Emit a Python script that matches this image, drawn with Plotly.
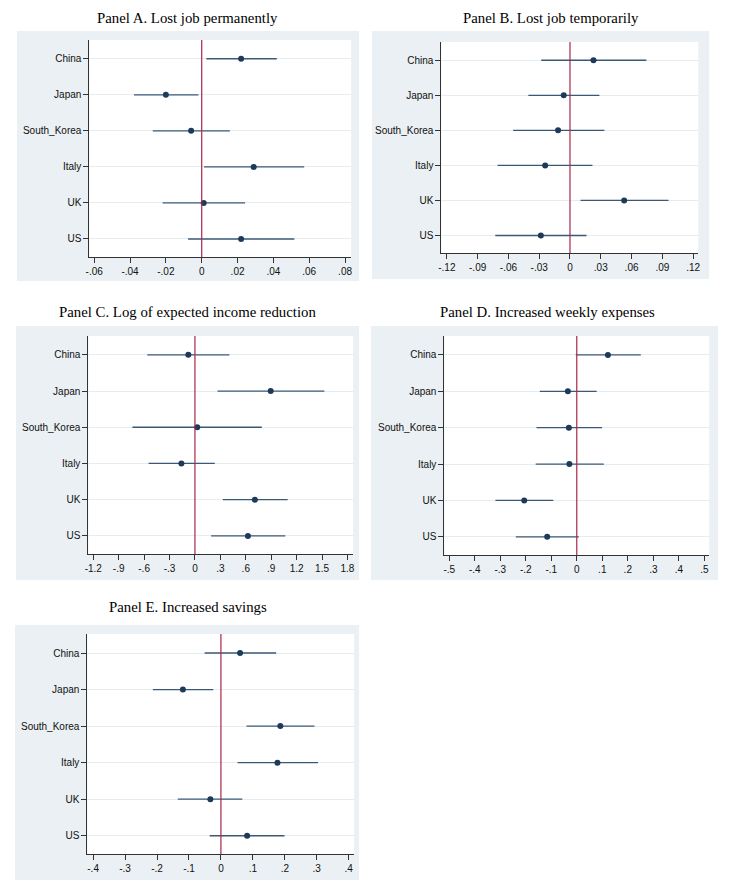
import plotly.graph_objects as go

countries = ["China", "Japan", "South_Korea", "Italy", "UK", "US"]

titles = [
    "Panel A. Lost job permanently",
    "Panel B. Lost job temporarily",
    "Panel C. Log of expected income reduction",
    "Panel D. Increased weekly expenses",
    "Panel E. Increased savings",
]

# Panel A
a_est = [0.022, -0.020, -0.0059, 0.029, 0.0011, 0.022]
a_lo = [0.0026, -0.0378, -0.0273, 0.0013, -0.0218, -0.0076]
a_hi = [0.0419, -0.0018, 0.0157, 0.0572, 0.0242, 0.0517]
# Panel B
b_est = [0.0229, -0.0061, -0.0116, -0.0242, 0.0528, -0.0284]
b_lo = [-0.028, -0.0406, -0.0554, -0.0706, 0.0103, -0.0728]
b_hi = [0.0744, 0.0287, 0.0335, 0.0219, 0.096, 0.0161]
# Panel C
c_est = [-0.078, 0.894, 0.027, -0.160, 0.707, 0.625]
c_lo = [-0.5625, 0.266, -0.738, -0.547, 0.328, 0.191]
c_hi = [0.406, 1.527, 0.789, 0.234, 1.094, 1.066]
# Panel D
d_est = [0.122, -0.035, -0.031, -0.029, -0.206, -0.116]
d_lo = [-0.004, -0.145, -0.158, -0.161, -0.319, -0.239]
d_hi = [0.251, 0.078, 0.099, 0.106, -0.092, 0.008]
# Panel E
e_est = [0.060, -0.119, 0.186, 0.177, -0.033, 0.082]
e_lo = [-0.051, -0.213, 0.080, 0.052, -0.135, -0.035]
e_hi = [0.173, -0.024, 0.293, 0.304, 0.067, 0.199]

a_ticks = [-0.06, -0.04, -0.02, 0, 0.02, 0.04, 0.06, 0.08]
a_ticklabels = ["-.06", "-.04", "-.02", "0", ".02", ".04", ".06", ".08"]
b_ticks = [-0.12, -0.09, -0.06, -0.03, 0, 0.03, 0.06, 0.09, 0.12]
b_ticklabels = ["-.12", "-.09", "-.06", "-.03", "0", ".03", ".06", ".09", ".12"]
c_ticks = [-1.2, -0.9, -0.6, -0.3, 0, 0.3, 0.6, 0.9, 1.2, 1.5, 1.8]
c_ticklabels = ["-1.2", "-.9", "-.6", "-.3", "0", ".3", ".6", ".9", "1.2", "1.5", "1.8"]
d_ticks = [-0.5, -0.4, -0.3, -0.2, -0.1, 0, 0.1, 0.2, 0.3, 0.4, 0.5]
d_ticklabels = ["-.5", "-.4", "-.3", "-.2", "-.1", "0", ".1", ".2", ".3", ".4", ".5"]
e_ticks = [-0.4, -0.3, -0.2, -0.1, 0, 0.1, 0.2, 0.3, 0.4]
e_ticklabels = ["-.4", "-.3", "-.2", "-.1", "0", ".1", ".2", ".3", ".4"]

panels = [
    (a_est, a_lo, a_hi, a_ticks, a_ticklabels),
    (b_est, b_lo, b_hi, b_ticks, b_ticklabels),
    (c_est, c_lo, c_hi, c_ticks, c_ticklabels),
    (d_est, d_lo, d_hi, d_ticks, d_ticklabels),
    (e_est, e_lo, e_hi, e_ticks, e_ticklabels),
]

# page body has an 8px margin: figure is drawn from (8, 8)
OFF = 8
W, H = 732 - OFF, 893 - OFF


def fx(p):
    return (p - OFF) / W


def fy(p):
    return 1 - (p - OFF) / H


plot_px = [
    (86, 350, 40, 257),
    (441, 700, 42, 253),
    (85, 352, 336, 554),
    (444, 711, 336, 555),
    (84, 353, 634, 854),
]
box_px = [
    (13, 358, 31, 281),
    (371, 711, 31, 279),
    (12, 358, 326, 580),
    (370, 720, 326, 580),
    (11, 358, 625, 880),
]
# title center x, top y (page pixels)
title_px = [(185, 8), (552, 8), (185, 302), (548, 302), (185, 597)]
xranges = [
    [-0.0627, 0.0834],
    [-0.1253, 0.125],
    [-1.258, 1.867],
    [-0.519, 0.519],
    [-0.418, 0.417],
]

ypos = [6, 5, 4, 3, 2, 1]

fig = go.Figure()
shapes = []
annotations = []
layout_axes = {}

for i, (est, lo, hi, ticks, labels) in enumerate(panels):
    n = i + 1
    xa = "x" if n == 1 else f"x{n}"
    ya = "y" if n == 1 else f"y{n}"
    xkey = "xaxis" if n == 1 else f"xaxis{n}"
    ykey = "yaxis" if n == 1 else f"yaxis{n}"
    px0, px1, py0, py1 = plot_px[i]
    bx0, bx1, by0, by1 = box_px[i]

    shapes.append(dict(type="rect", xref="paper", yref="paper",
                       x0=fx(bx0), x1=fx(bx1), y0=fy(by1), y1=fy(by0),
                       fillcolor="#eaf0f3", line=dict(width=0), layer="below"))
    shapes.append(dict(type="rect", xref="paper", yref="paper",
                       x0=fx(px0), x1=fx(px1), y0=fy(py1), y1=fy(py0),
                       fillcolor="white", line=dict(width=0), layer="below"))
    shapes.append(dict(type="line", xref=xa, yref=f"{ya} domain",
                       x0=0, x1=0, y0=0, y1=1,
                       line=dict(color="#a8284a", width=1.2), layer="above"))

    fig.add_trace(go.Scatter(
        x=est, y=ypos, xaxis=xa, yaxis=ya, mode="markers",
        marker=dict(color="#1d3a5a", size=6),
        error_x=dict(type="data", symmetric=False,
                     array=[h - e for h, e in zip(hi, est)],
                     arrayminus=[e - l for e, l in zip(est, lo)],
                     color="#3b5876", thickness=1.3, width=0),
        showlegend=False, hoverinfo="skip",
    ))

    layout_axes[xkey] = dict(
        domain=[fx(px0), fx(px1)], anchor=ya, range=xranges[i],
        tickmode="array", tickvals=ticks, ticktext=labels,
        showgrid=False, zeroline=False, showline=True, linecolor="#333333", linewidth=1,
        ticks="outside", ticklen=5, tickcolor="#333333",
        tickfont=dict(family="Liberation Sans, Arial", size=10, color="#111111"),
        fixedrange=True,
    )
    layout_axes[ykey] = dict(
        domain=[fy(py1), fy(py0)], anchor=xa, range=[0.5, 6.52],
        tickmode="array", tickvals=ypos, ticktext=countries,
        showgrid=True, gridcolor="#e6edf1", gridwidth=1, zeroline=False,
        showline=True, linecolor="#333333", linewidth=1,
        ticks="outside", ticklen=5, tickcolor="#333333",
        tickfont=dict(family="Liberation Sans, Arial", size=10, color="#111111"),
        fixedrange=True,
    )
    tx, ty = title_px[i]
    annotations.append(dict(text=titles[i], xref="paper", yref="paper",
                            x=fx(tx), y=fy(ty), showarrow=False,
                            xanchor="center", yanchor="top",
                            font=dict(family="Liberation Serif, Times New Roman", size=14.8, color="#000000")))

fig.update_layout(
    width=W, height=H, margin=dict(l=0, r=0, t=0, b=0),
    paper_bgcolor="white", plot_bgcolor="rgba(0,0,0,0)",
    shapes=shapes, annotations=annotations, **layout_axes,
)

fig.write_html("out.html")
